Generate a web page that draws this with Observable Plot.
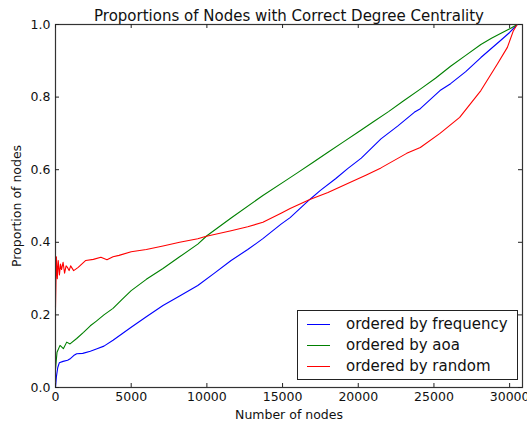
<!DOCTYPE html>
<html>
<head>
<meta charset="utf-8">
<script src="https://cdn.jsdelivr.net/npm/d3@7"></script>
<script src="https://cdn.jsdelivr.net/npm/@observablehq/plot@0.6"></script>
<style>
  html, body { margin: 0; padding: 0; background: #fff; }
  #wrap { position: relative; width: 527px; height: 425px; font-family: "DejaVu Sans", sans-serif; }
  #legend {
    position: absolute; left: 297px; top: 310px; width: 219px; height: 68px;
    border: 1px solid #222; background: #fff; box-sizing: content-box;
  }
  .row { position: absolute; left: 0; height: 20px; display: flex; align-items: center; font-size: 15px; color: #111; }
  .swatch { width: 23px; height: 0; border-top: 1.2px solid; margin-left: 9px; margin-right: 16px; }
</style>
</head>
<body>
<div id="wrap"><div id="chart"></div><div id="legend"></div></div>
<script>
// Cumulative proportion of nodes whose degree centrality is correct,
// for three node orderings.
const titleText = "Proportions of Nodes with Correct Degree Centrality";
const xLabel = "Number of nodes";
const yLabel = "Proportion of nodes";

const seriesNames = ["ordered by frequency", "ordered by aoa", "ordered by random"];
const seriesColors = ["#0000ff", "#008000", "#ff0000"];

const xTicks = [0, 5000, 10000, 15000, 20000, 25000, 30000];
const yTicks = [0, 0.2, 0.4, 0.6, 0.8, 1.0];
const xMax = 30850;

// ordered by frequency
const nodesFreq = [0, 60, 150, 250, 500, 800, 1000, 1200, 1400, 1800, 2300, 2700, 3200, 3800, 4400, 5000,
  6000, 7100, 8200, 9400, 10500, 11600, 12700, 13700, 14900, 15500, 16800, 17500, 18500, 19300, 20200,
  21500, 22600, 23700, 24100, 25400, 26100, 27100, 28100, 29400, 30000, 30500];
const propFreq = [0, 0.03, 0.055, 0.068, 0.072, 0.075, 0.08, 0.088, 0.093, 0.094, 0.1, 0.106, 0.114, 0.13, 0.148, 0.166,
  0.195, 0.226, 0.252, 0.281, 0.315, 0.35, 0.38, 0.41, 0.45, 0.468, 0.518, 0.543, 0.575, 0.603, 0.632,
  0.685, 0.72, 0.758, 0.768, 0.818, 0.837, 0.87, 0.909, 0.956, 0.978, 1.0];

// ordered by age of acquisition
const nodesAoa = [0, 40, 100, 300, 520, 740, 960, 1400, 1850, 2300, 2700, 3200, 3800, 4400, 5000,
  6000, 7100, 8200, 9400, 10000, 11600, 13700, 15200, 16000, 17000, 18000, 19000, 20000, 21000, 22000,
  23000, 24100, 25100, 26100, 27100, 28100, 28800, 29400, 30050, 30500];
const propAoa = [0.05, 0.07, 0.097, 0.116, 0.107, 0.125, 0.12, 0.135, 0.152, 0.17, 0.183, 0.2, 0.218, 0.243, 0.267,
  0.298, 0.328, 0.36, 0.395, 0.418, 0.467, 0.529, 0.57, 0.592, 0.62, 0.648, 0.676, 0.704, 0.732, 0.76,
  0.79, 0.822, 0.852, 0.885, 0.915, 0.945, 0.962, 0.975, 0.989, 1.0];

// ordered at random
const nodesRandom = [0, 60, 120, 180, 260, 330, 400, 500, 600, 700, 800, 900, 1000, 1200, 1500, 2000, 2500,
  3000, 3400, 3800, 4200, 5000, 6000, 7100, 8200, 9400, 9900, 11600, 12700, 13700, 14900, 15500, 16800,
  18000, 19300, 20500, 21500, 23200, 24100, 25400, 26700, 28100, 29200, 29850, 30250, 30500];
const propRandom = [0.22, 0.36, 0.3, 0.35, 0.31, 0.34, 0.325, 0.345, 0.315, 0.335, 0.33, 0.322, 0.335, 0.322, 0.331, 0.35, 0.353,
  0.359, 0.352, 0.36, 0.364, 0.374, 0.38, 0.39, 0.4, 0.41, 0.416, 0.432, 0.443, 0.455, 0.48, 0.493, 0.518,
  0.537, 0.562, 0.585, 0.605, 0.645, 0.661, 0.7, 0.744, 0.818, 0.892, 0.937, 0.983, 1.0];

const toRows = (xs, ys) => xs.map((x, i) => ({x, y: ys[i]}));
const series = [toRows(nodesFreq, propFreq), toRows(nodesAoa, propAoa), toRows(nodesRandom, propRandom)];

// chart geometry
const W = 527, H = 425, mTop = 24, mLeft = 55, mRight = 5, mBottom = 38;
const frameW = W - mLeft - mRight, frameH = H - mTop - mBottom;
const tickLen = 4;
const tickStyle = {stroke: "#222", strokeWidth: 1};

const chart = Plot.plot({
  width: W,
  height: H,
  marginTop: mTop,
  marginLeft: mLeft,
  marginRight: mRight,
  marginBottom: mBottom,
  style: {fontFamily: "DejaVu Sans", fontSize: "12.5px", background: "#fff", color: "#111"},
  x: {domain: [0, xMax]},
  y: {domain: [0, 1]},
  marks: [
    ...series.map((rows, i) => Plot.line(rows, {x: "x", y: "y", stroke: seriesColors[i], strokeWidth: 1.1})),
    Plot.frame({stroke: "#333", strokeWidth: 1.2}),
    // inward tick marks on all four sides
    Plot.tickX(xTicks, {x: d => d, insetTop: frameH - tickLen, ...tickStyle}),
    Plot.tickX(xTicks, {x: d => d, insetBottom: frameH - tickLen, ...tickStyle}),
    Plot.tickY(yTicks, {y: d => d, insetRight: frameW - tickLen, ...tickStyle}),
    Plot.tickY(yTicks, {y: d => d, insetLeft: frameW - tickLen, ...tickStyle}),
    Plot.axisX(xTicks, {tickSize: 0, tickPadding: 5, tickFormat: "d", label: xLabel,
      labelAnchor: "center", labelArrow: "none", labelOffset: 31}),
    Plot.axisY(yTicks, {tickSize: 0, tickPadding: 5, tickFormat: ".1f", label: yLabel,
      labelAnchor: "center", labelArrow: "none", labelOffset: 43}),
    Plot.text([titleText], {frameAnchor: "top", dy: -14, fontSize: 15, fill: "#111"})
  ]
});
document.getElementById("chart").appendChild(chart);

// legend box in the lower right of the axes
const legend = d3.select("#legend");
seriesNames.forEach((name, i) => {
  const row = legend.append("div").attr("class", "row").style("top", `${3 + i * 21}px`);
  row.append("div").attr("class", "swatch").style("border-color", seriesColors[i]);
  row.append("span").text(name);
});
</script>
</body>
</html>
